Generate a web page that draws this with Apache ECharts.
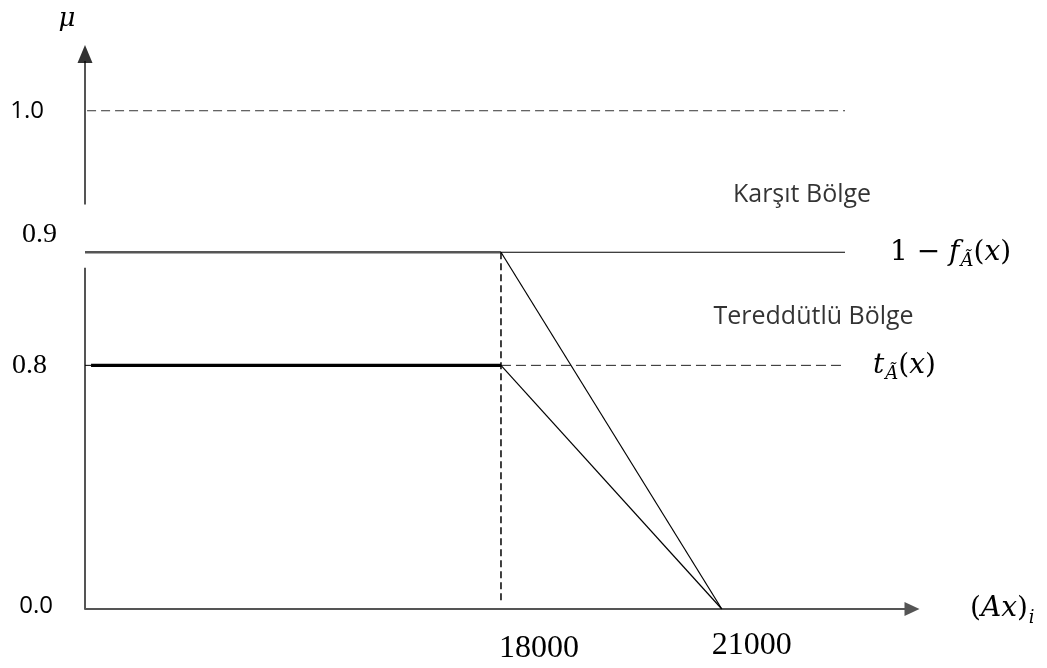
<!DOCTYPE html>
<html>
<head>
<meta charset="utf-8">
<script src="https://cdn.jsdelivr.net/npm/echarts@6/dist/echarts.min.js"></script>
<style>
html,body{margin:0;padding:0;background:#fff;}
#chart{width:1047px;height:668px;}
</style>
</head>
<body>
<div id="chart"></div>
<script>
// Schematic diagram: the picture does not place values proportionally,
// so each tick value is paired with the schematic height/position it is drawn at.
const yTickLabels = ['0.0', '0.8', '0.9', '1.0'];
const yLevels = [0, 48.9, 71.6, 100];          // drawn heights of mu = 0.0, 0.8, 0.9, 1.0
const xTickLabels = ['18000', '21000'];
const xBreaks = [50.3, 77.0];                  // drawn positions of 18000 and 21000
const xGuideEnd = 91.9;                        // right end of horizontal guides
const regionLabels = ['Karşıt Bölge', 'Tereddütlü Bölge'];

const MU1 = yLevels[3], MU09 = yLevels[2], MU08 = yLevels[1], MU0 = yLevels[0];
const X18 = xBreaks[0], X21 = xBreaks[1];

const serif = 'Liberation Serif';
const mathFont = 'DejaVu Serif';
const sans = 'Open Sans';
const AX = '#555';

const chart = echarts.init(document.getElementById('chart'), null, {renderer: 'canvas'});

const mathRich = {
  n: {fontFamily: mathFont, fontSize: 28, color: '#000'},
  it: {fontFamily: mathFont, fontSize: 28, fontStyle: 'italic', color: '#000'},
  sub: {fontFamily: mathFont, fontSize: 18, fontStyle: 'italic', color: '#000', padding: [18, 0, 0, 1]}
};

function yLabel(v) {
  let i = -1, best = 1e9;
  yLevels.forEach((l, k) => { if (Math.abs(l - v) < best) { best = Math.abs(l - v); i = k; } });
  const key = ['a', 'b', 'c', 'd'][i];
  return '{' + key + '|' + yTickLabels[i] + '}';
}
function xLabel(v) {
  let i = -1, best = 1e9;
  xBreaks.forEach((l, k) => { if (Math.abs(l - v) < best) { best = Math.abs(l - v); i = k; } });
  return '{' + (i === 0 ? 'p' : 'q') + '|' + xTickLabels[i] + '}';
}

const thin = {color: '#000', width: 1.2};

const option = {
  animation: false,
  backgroundColor: '#fff',
  grid: {left: 85, right: 1047 - 912, top: 36, bottom: 58, containLabel: false},
  xAxis: {
    type: 'value', min: 0, max: 100,
    name: '{n|(}{it|Ax}{n|)}{sub|i}',
    nameLocation: 'end', nameGap: 58,
    nameTextStyle: {rich: mathRich, align: 'left', verticalAlign: 'middle'},
    axisLine: {show: true, lineStyle: {color: AX, width: 2}, symbol: ['none', 'triangle'], symbolSize: [14, 15]},
    axisTick: {show: false},
    splitLine: {show: false},
    axisLabel: {
      show: true, customValues: xBreaks, margin: 24, formatter: xLabel,
      rich: {
        p: {fontFamily: serif, fontSize: 32, lineHeight: 32, color: '#000', padding: [0, 0, 0, 76]},
        q: {fontFamily: serif, fontSize: 32, lineHeight: 32, color: '#000', padding: [0, 0, 6, 60]}
      }
    }
  },
  yAxis: {
    type: 'value', min: 0, max: 115,
    name: 'μ', nameLocation: 'end', nameGap: 4,
    nameTextStyle: {fontFamily: mathFont, fontStyle: 'italic', fontSize: 26, color: '#000', padding: [0, 36, 0, 0]},
    axisLine: {show: false},
    axisTick: {show: false},
    splitLine: {show: false},
    axisLabel: {
      show: true, customValues: yLevels, margin: 28, align: 'right', formatter: yLabel,
      rich: {
        a: {fontFamily: sans, fontSize: 24, color: '#000', padding: [0, 4, 6, 0]},
        b: {fontFamily: serif, fontSize: 28, color: '#000', padding: [0, 10, 0, 0]},
        c: {fontFamily: serif, fontSize: 28, color: '#000', padding: [0, 0, 35, 0]},
        d: {fontFamily: sans, fontSize: 24, color: '#000', padding: [0, 13, 0, 0]}
      }
    }
  },
  series: [
    // y axis drawn as broken line with arrow head
    {type: 'line', data: [[0, MU0], [0, 68.5]], symbol: 'none', lineStyle: {color: AX, width: 2}, z: 1},
    {type: 'line', data: [[0, 81.2], [0, 110]], symbol: 'none', lineStyle: {color: AX, width: 2}, z: 1},
    {type: 'scatter', data: [[0, 111.4]], symbol: 'triangle', symbolSize: [15, 18], itemStyle: {color: '#000'}, z: 3},
    // mu = 1.0 dashed guide
    {type: 'line', data: [[0.25, MU1], [xGuideEnd, MU1]], symbol: 'none', lineStyle: {color: '#333', width: 1, type: [9, 5]}},
    // 1 - f : thick part, thin continuation, diagonal
    {type: 'line', data: [[0, MU09], [X18, MU09]], symbol: 'none', lineStyle: {color: '#555', width: 2.6}},
    {type: 'line', data: [[X18, MU09], [xGuideEnd, MU09]], symbol: 'none', lineStyle: thin,
      endLabel: {show: true, distance: 45, formatter: '{n|1 − }{it|f}{sub|Ã}{n|(}{it|x}{n|)}', rich: mathRich}},
    {type: 'line', data: [[X18, MU09], [X21, MU0]], symbol: 'none', lineStyle: thin},
    // t : thick part, dashed continuation, diagonal
    {type: 'line', data: [[0, MU08], [0.73, MU08]], symbol: 'none', lineStyle: {color: '#000', width: 1}},
    {type: 'line', data: [[0.73, MU08], [X18, MU08]], symbol: 'none', lineStyle: {color: '#000', width: 3.4}},
    {type: 'line', data: [[X18, MU08], [xGuideEnd, MU08]], symbol: 'none', lineStyle: {color: '#222', width: 1, type: [10, 5]},
      endLabel: {show: true, distance: 28, formatter: '{it|t}{sub|Ã}{n|(}{it|x}{n|)}', rich: mathRich}},
    {type: 'line', data: [[X18, MU08], [X21, MU0]], symbol: 'none', lineStyle: thin},
    // vertical dashed at 18000
    {type: 'line', data: [[X18, MU09], [X18, 1.4]], symbol: 'none', lineStyle: {color: '#000', width: 1.5, type: [7, 4]}},
    // region labels
    {type: 'scatter', symbolSize: 0,
      data: [{value: [86.7, 83.1], name: regionLabels[0]}, {value: [88.1, 58.7], name: regionLabels[1]}],
      label: {show: true, position: 'inside', formatter: '{b}', fontFamily: sans, fontSize: 25, color: '#000'}}
  ]
};
chart.setOption(option);
</script>
</body>
</html>
